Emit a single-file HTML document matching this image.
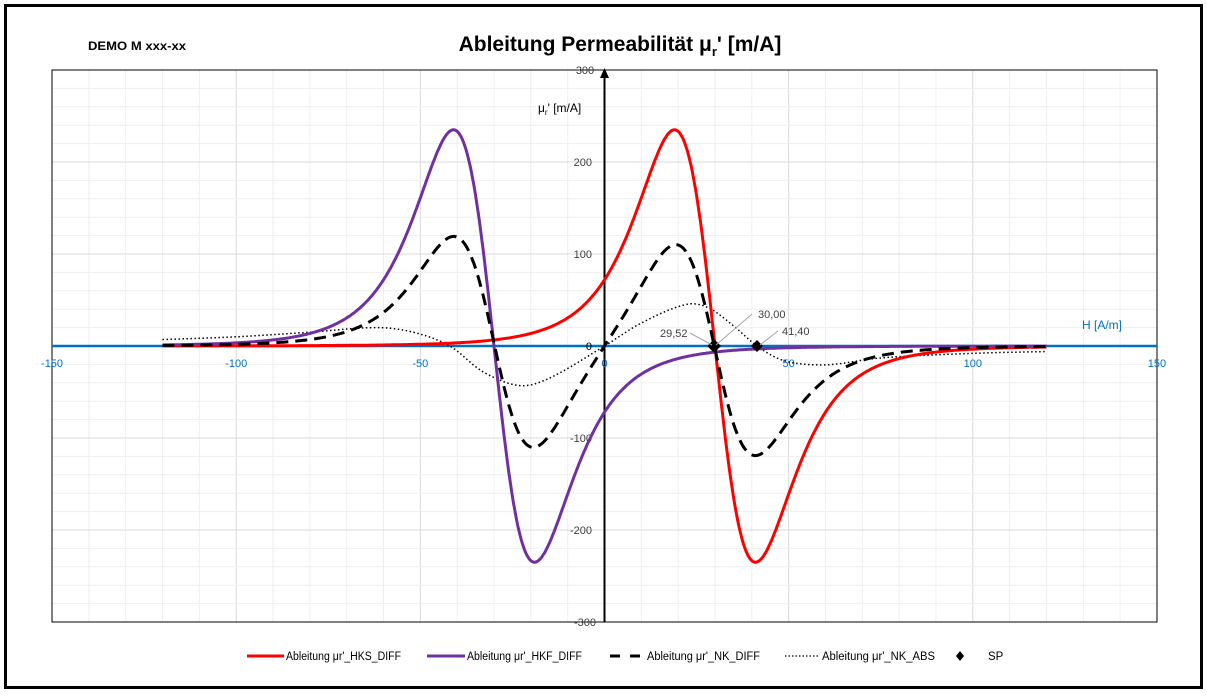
<!DOCTYPE html>
<html><head><meta charset="utf-8">
<style>
html,body{margin:0;padding:0;background:#fff;}
svg{display:block;font-family:"Liberation Sans",sans-serif;}
</style></head>
<body>
<svg id="s" width="1207" height="696" xmlns="http://www.w3.org/2000/svg">
<rect x="0" y="0" width="1207" height="696" fill="#fff"/>
<rect x="5.5" y="5.5" width="1196" height="682" fill="none" stroke="#000" stroke-width="3"/>
<g id="grid"></g>
<rect x="52" y="70" width="1105" height="552" fill="none" stroke="#000" stroke-width="1"/>
<line x1="52" y1="346" x2="1157" y2="346" stroke="#0070c0" stroke-width="2.5"/>
<line x1="604.5" y1="622" x2="604.5" y2="76" stroke="#000" stroke-width="2"/>
<polygon points="604.5,68 600,78 609,78" fill="#000"/>
<text x="88" y="50" font-size="12" font-weight="bold" textLength="98" lengthAdjust="spacingAndGlyphs">DEMO M xxx-xx</text>
<text x="620" y="51" font-size="21" font-weight="bold" text-anchor="middle">Ableitung Permeabilität μ<tspan font-size="13" dy="5">r</tspan><tspan dy="-5">' [m/A]</tspan></text>
<text x="538" y="112" font-size="12">μ<tspan font-size="8" dy="3">r</tspan><tspan dy="-3">' [m/A]</tspan></text>
<text x="1082" y="329" font-size="12" fill="#0070c0">H [A/m]</text>
<g id="lab" font-size="11"></g>
<g id="curves"></g>
<g font-size="11" fill="#404040">
<line x1="690" y1="333" x2="712" y2="345" stroke="#a6a6a6"/>
<line x1="752" y1="314" x2="716" y2="345" stroke="#a6a6a6"/>
<line x1="778" y1="331" x2="760" y2="345" stroke="#a6a6a6"/>
<text x="660" y="337">29,52</text>
<text x="758" y="318">30,00</text>
<text x="782" y="335">41,40</text>
</g>
<g id="leg" font-size="11.5"></g>
</svg>
<script>
const NS="http://www.w3.org/2000/svg";
const X=h=>604.5+h*3.683, Y=v=>346-v*0.92;
function el(p,t,a,txt){const e=document.createElementNS(NS,t);for(const k in a)e.setAttribute(k,a[k]);if(txt!=null)e.textContent=txt;document.getElementById(p).appendChild(e);return e;}
for(let h=-150;h<=150;h+=10){el('grid','line',{x1:X(h),x2:X(h),y1:70,y2:622,stroke:h%50==0?'#d9d9d9':'#efefef'});}
for(let v=-300;v<=300;v+=20){el('grid','line',{x1:52,x2:1157,y1:Y(v),y2:Y(v),stroke:v%100==0?'#d9d9d9':'#efefef'});}
[-150,-100,-50,50,100,150].forEach(h=>el('lab','text',{x:X(h),y:367,'text-anchor':'middle',fill:'#0070c0'},String(h)));
el('lab','text',{x:X(0),y:367,'text-anchor':'middle',fill:'#0070c0'},'0');
[300,200,100,0,-100,-200,-300].forEach(v=>el('lab','text',{x:v==300||v==-300?585:592,y:Y(v)+4,'text-anchor':v==300||v==-300?'middle':'end',fill:v==0?'#000':'#404040'},String(v)));
const red=h=>{const u=(h-30)/24.6;return -908*u/Math.pow(1+u*u,3);};
const pur=h=>-red(-h);
const nk=h=>(red(h)+pur(h))/2;
const pts=[[-120,7],[-100,10],[-80,15],[-62,20],[-52,15],[-42,0],[-33,-28],[-23,-43],[-15,-35],[0,0],[10,25],[22,45],[28,42],[35,22],[41.4,0],[48,-15],[55,-20],[62,-20],[75,-13],[100,-8],[120,-6]];
function abs(h){let i=0;while(i<pts.length-2&&pts[i+1][0]<h)i++;const p0=pts[Math.max(i-1,0)],p1=pts[i],p2=pts[i+1],p3=pts[Math.min(i+2,pts.length-1)];const t=(h-p1[0])/(p2[0]-p1[0]);
const m1=(p2[1]-p0[1])/(p2[0]-p0[0])*(p2[0]-p1[0]),m2=(p3[1]-p1[1])/(p3[0]-p1[0])*(p2[0]-p1[0]);
const t2=t*t,t3=t2*t;return (2*t3-3*t2+1)*p1[1]+(t3-2*t2+t)*m1+(-2*t3+3*t2)*p2[1]+(t3-t2)*m2;}
function path(f,a){let d='';for(let h=-120;h<=120.001;h+=0.25){d+=(d?'L':'M')+X(h).toFixed(1)+','+Y(f(h)).toFixed(1);}a.d=d;a.fill='none';el('curves','path',a);}
path(abs,{stroke:'#000','stroke-width':1.5,'stroke-dasharray':'1.5,2.5'});
path(red,{stroke:'#ff0000','stroke-width':3});
path(pur,{stroke:'#7030a0','stroke-width':3});
path(nk,{stroke:'#000','stroke-width':3,'stroke-dasharray':'12,7'});
[29.52,30,41.4].forEach(h=>{const x=X(h),y=Y(0);el('curves','polygon',{points:`${x},${y-6} ${x+6},${y} ${x},${y+6} ${x-6},${y}`,fill:'#000'});});
// legend
el('leg','line',{x1:247,x2:284,y1:656,y2:656,stroke:'#ff0000','stroke-width':3});
el('leg','text',{x:286,y:660,textLength:115,lengthAdjust:'spacingAndGlyphs'},"Ableitung μr'_HKS_DIFF");
el('leg','line',{x1:427,x2:465,y1:656,y2:656,stroke:'#7030a0','stroke-width':3});
el('leg','text',{x:467,y:660,textLength:115,lengthAdjust:'spacingAndGlyphs'},"Ableitung μr'_HKF_DIFF");
el('leg','line',{x1:610,x2:643,y1:656,y2:656,stroke:'#000','stroke-width':3,'stroke-dasharray':'10,10'});
el('leg','text',{x:647,y:660,textLength:113,lengthAdjust:'spacingAndGlyphs'},"Ableitung μr'_NK_DIFF");
el('leg','line',{x1:785,x2:820,y1:656,y2:656,stroke:'#000','stroke-width':1.2,'stroke-dasharray':'1.5,2'});
el('leg','text',{x:822,y:660,textLength:113,lengthAdjust:'spacingAndGlyphs'},"Ableitung μr'_NK_ABS");
el('leg','polygon',{points:'960,651 964,656 960,661 956,656',fill:'#000'});
el('leg','text',{x:988,y:660},"SP");
</script>
</body></html>
